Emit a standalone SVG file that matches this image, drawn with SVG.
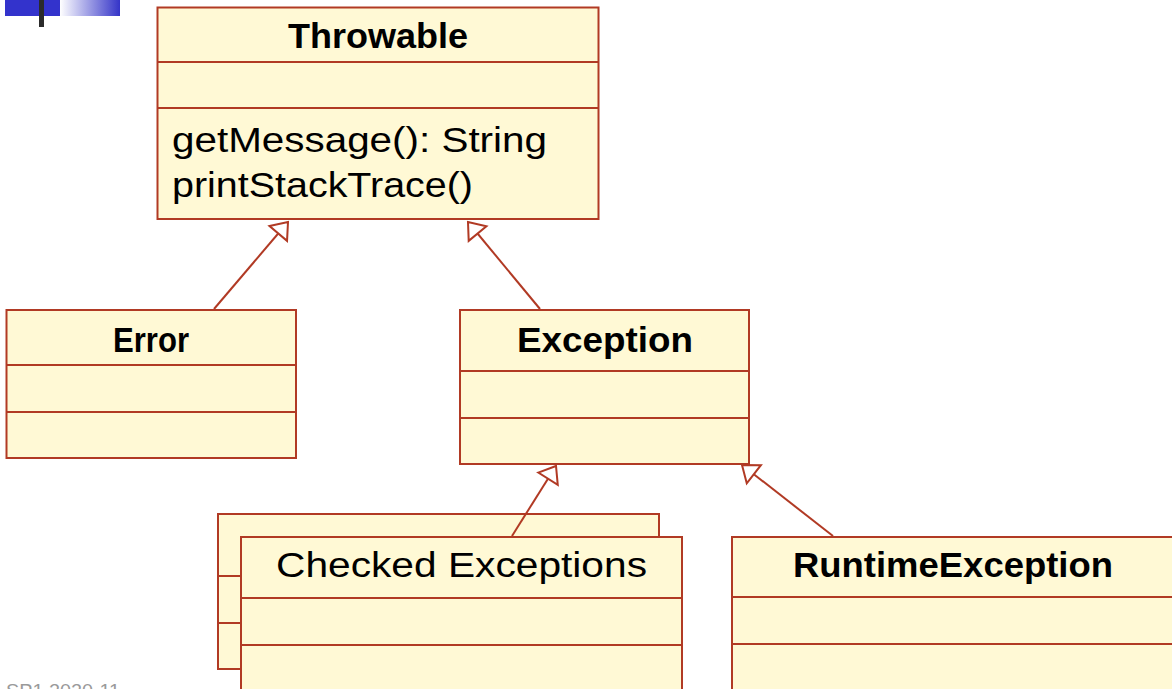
<svg xmlns="http://www.w3.org/2000/svg" width="1172" height="689" viewBox="0 0 1172 689">
  <style>
    .box { fill: #fff9d5; stroke: #b13a24; stroke-width: 2; }
    .div { stroke: #b13a24; stroke-width: 2; fill: none; }
    .conn { stroke: #b13a24; stroke-width: 2; fill: none; }
    .t { font-family: "Liberation Sans", Arial, sans-serif; font-size: 35px; fill: #000; }
    .b { font-weight: bold; }
  </style>
  <defs>
    <linearGradient id="logoGrad" x1="0" y1="0" x2="1" y2="0">
      <stop offset="0" stop-color="#ffffff"/>
      <stop offset="1" stop-color="#3434c8"/>
    </linearGradient>
    <marker id="gen" markerUnits="userSpaceOnUse" markerWidth="22" markerHeight="28" viewBox="0 0 22 28" refX="18" refY="14" orient="auto">
      <path d="M3,2.5 L18,14 L3,25.5 Z" fill="#ffffff" stroke="#b13a24" stroke-width="2"/>
    </marker>
  </defs>

  <g id="logo">
    <rect x="5" y="0" width="55" height="16" fill="#3333cc"/>
    <rect x="60" y="0" width="60" height="16" fill="url(#logoGrad)"/>
    <rect x="39" y="0" width="5" height="27" fill="#2b2b2b"/>
  </g>

  <g id="footer">
    <text x="6" y="697" font-family="'Liberation Sans', Arial, sans-serif" font-size="18" fill="#9a9a9a" textLength="114" lengthAdjust="spacingAndGlyphs">SP1 2020-11</text>
  </g>

  <g id="throwable">
    <rect class="box" x="157.5" y="7.5" width="441" height="211.5"/>
    <line class="div" x1="157.5" y1="62" x2="598.5" y2="62"/>
    <line class="div" x1="157.5" y1="108" x2="598.5" y2="108"/>
    <text class="t b" x="288" y="48" textLength="180" lengthAdjust="spacingAndGlyphs">Throwable</text>
    <text class="t" x="172" y="152" textLength="375" lengthAdjust="spacingAndGlyphs">getMessage():  String</text>
    <text class="t" x="172" y="197" textLength="301" lengthAdjust="spacingAndGlyphs">printStackTrace()</text>
  </g>

  <g id="error">
    <rect class="box" x="6.5" y="310" width="289.5" height="148"/>
    <line class="div" x1="6.5" y1="365" x2="296" y2="365"/>
    <line class="div" x1="6.5" y1="412" x2="296" y2="412"/>
    <text class="t b" x="113" y="352" textLength="76" lengthAdjust="spacingAndGlyphs">Error</text>
  </g>

  <g id="exception">
    <rect class="box" x="460" y="310" width="289" height="154"/>
    <line class="div" x1="460" y1="371" x2="749" y2="371"/>
    <line class="div" x1="460" y1="418" x2="749" y2="418"/>
    <text class="t b" x="517" y="352" textLength="176" lengthAdjust="spacingAndGlyphs">Exception</text>
  </g>

  <g id="checked-exceptions">
    <rect class="box" x="218" y="514" width="441" height="155"/>
    <line class="div" x1="218" y1="576" x2="659" y2="576"/>
    <line class="div" x1="218" y1="623" x2="659" y2="623"/>
    <rect class="box" x="241" y="537" width="441" height="180"/>
    <line class="div" x1="241" y1="598" x2="682" y2="598"/>
    <line class="div" x1="241" y1="645" x2="682" y2="645"/>
    <text class="t" x="276" y="577" textLength="371" lengthAdjust="spacingAndGlyphs">Checked Exceptions</text>
  </g>

  <g id="runtime-exception">
    <rect class="box" x="732" y="537" width="480" height="180"/>
    <line class="div" x1="732" y1="597" x2="1212" y2="597"/>
    <line class="div" x1="732" y1="644" x2="1212" y2="644"/>
    <text class="t b" x="793" y="577" textLength="320" lengthAdjust="spacingAndGlyphs">RuntimeException</text>
  </g>

  <g id="connectors">
    <line class="conn" x1="214" y1="309" x2="288" y2="222" marker-end="url(#gen)"/>
    <line class="conn" x1="540" y1="309" x2="468" y2="222" marker-end="url(#gen)"/>
    <line class="conn" x1="512" y1="536" x2="556" y2="466" marker-end="url(#gen)"/>
    <line class="conn" x1="833" y1="536" x2="742" y2="465" marker-end="url(#gen)"/>
  </g>
</svg>
